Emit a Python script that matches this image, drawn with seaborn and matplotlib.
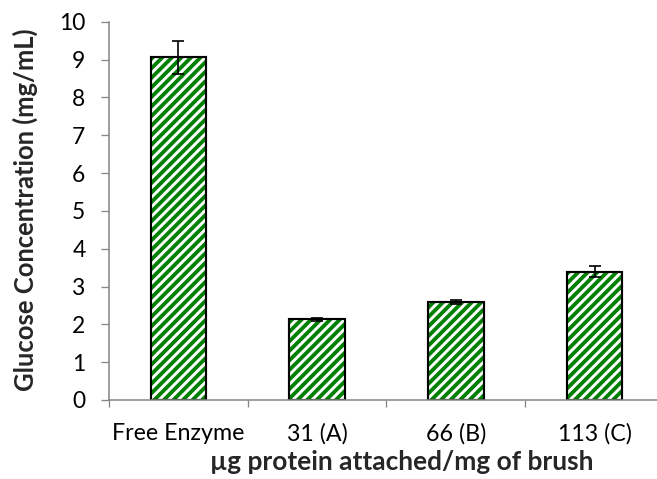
import numpy as np
import pandas as pd
import seaborn as sns
import matplotlib.pyplot as plt
from matplotlib.ticker import FixedLocator

# values
categories = ["Free Enzyme", "31 (A)", "66 (B)", "113 (C)"]
glucose = [9.06, 2.13, 2.59, 3.39]
glucose_err = [0.44, 0.04, 0.05, 0.14]
y_ticks = list(range(0, 11))

DPI = 86
sns.set_style("white")
plt.rcParams["font.family"] = ["Lato", "DejaVu Sans"]
plt.rcParams["hatch.linewidth"] = 3.2

df = pd.DataFrame({"sample": categories, "glucose": glucose})

fig = plt.figure(figsize=(657 / DPI, 479 / DPI), dpi=DPI)
ax = fig.add_axes([109 / 657, 79 / 479, 548 / 657, (400 - 21.7) / 479])

# striped fill
sns.barplot(data=df, x="sample", y="glucose", color="white", edgecolor="#008000",
            linewidth=0, hatch="///", width=0.4, saturation=1, errorbar=None, ax=ax)
# black outline on top
sns.barplot(data=df, x="sample", y="glucose", fill=False, color="black",
            linewidth=1.8, width=0.4, errorbar=None, ax=ax)

ax.errorbar(np.arange(len(categories)), glucose, yerr=glucose_err, fmt="none",
            ecolor="black", elinewidth=1.4, capsize=5, capthick=1.4, zorder=5)

grey = "#868686"
ax.set_ylim(0, 10)
ax.set_xlim(-0.5, 3.45)
ax.set_yticks(y_ticks)
for side in ["top", "right"]:
    ax.spines[side].set_visible(False)
for side in ["left", "bottom"]:
    ax.spines[side].set_color(grey)
    ax.spines[side].set_linewidth(1.3)

ax.tick_params(axis="y", which="major", left=True, length=6.7, width=1.1, color=grey,
               labelsize=19, pad=13, labelcolor="black")
ax.tick_params(axis="x", which="major", bottom=True, length=0, labelsize=19.5, pad=19,
               labelcolor="black")
ax.xaxis.set_minor_locator(FixedLocator([-0.5, 0.5, 1.5, 2.5]))
ax.tick_params(axis="x", which="minor", bottom=True, length=5.9, width=1.1, color=grey)

ax.set_xlabel("µg protein attached/mg of brush", fontsize=22, fontweight="bold")
ax.set_ylabel("Glucose Concentration (mg/mL)", fontsize=21.5, fontweight="bold")
ax.xaxis.set_label_coords((402 - 109) / 548, -(450 - 400) / (400 - 21.7))
ax.yaxis.set_label_coords(-(109 - 38) / 548, (400 - 210) / (400 - 21.7))

fig.savefig("out.png", dpi=DPI)
